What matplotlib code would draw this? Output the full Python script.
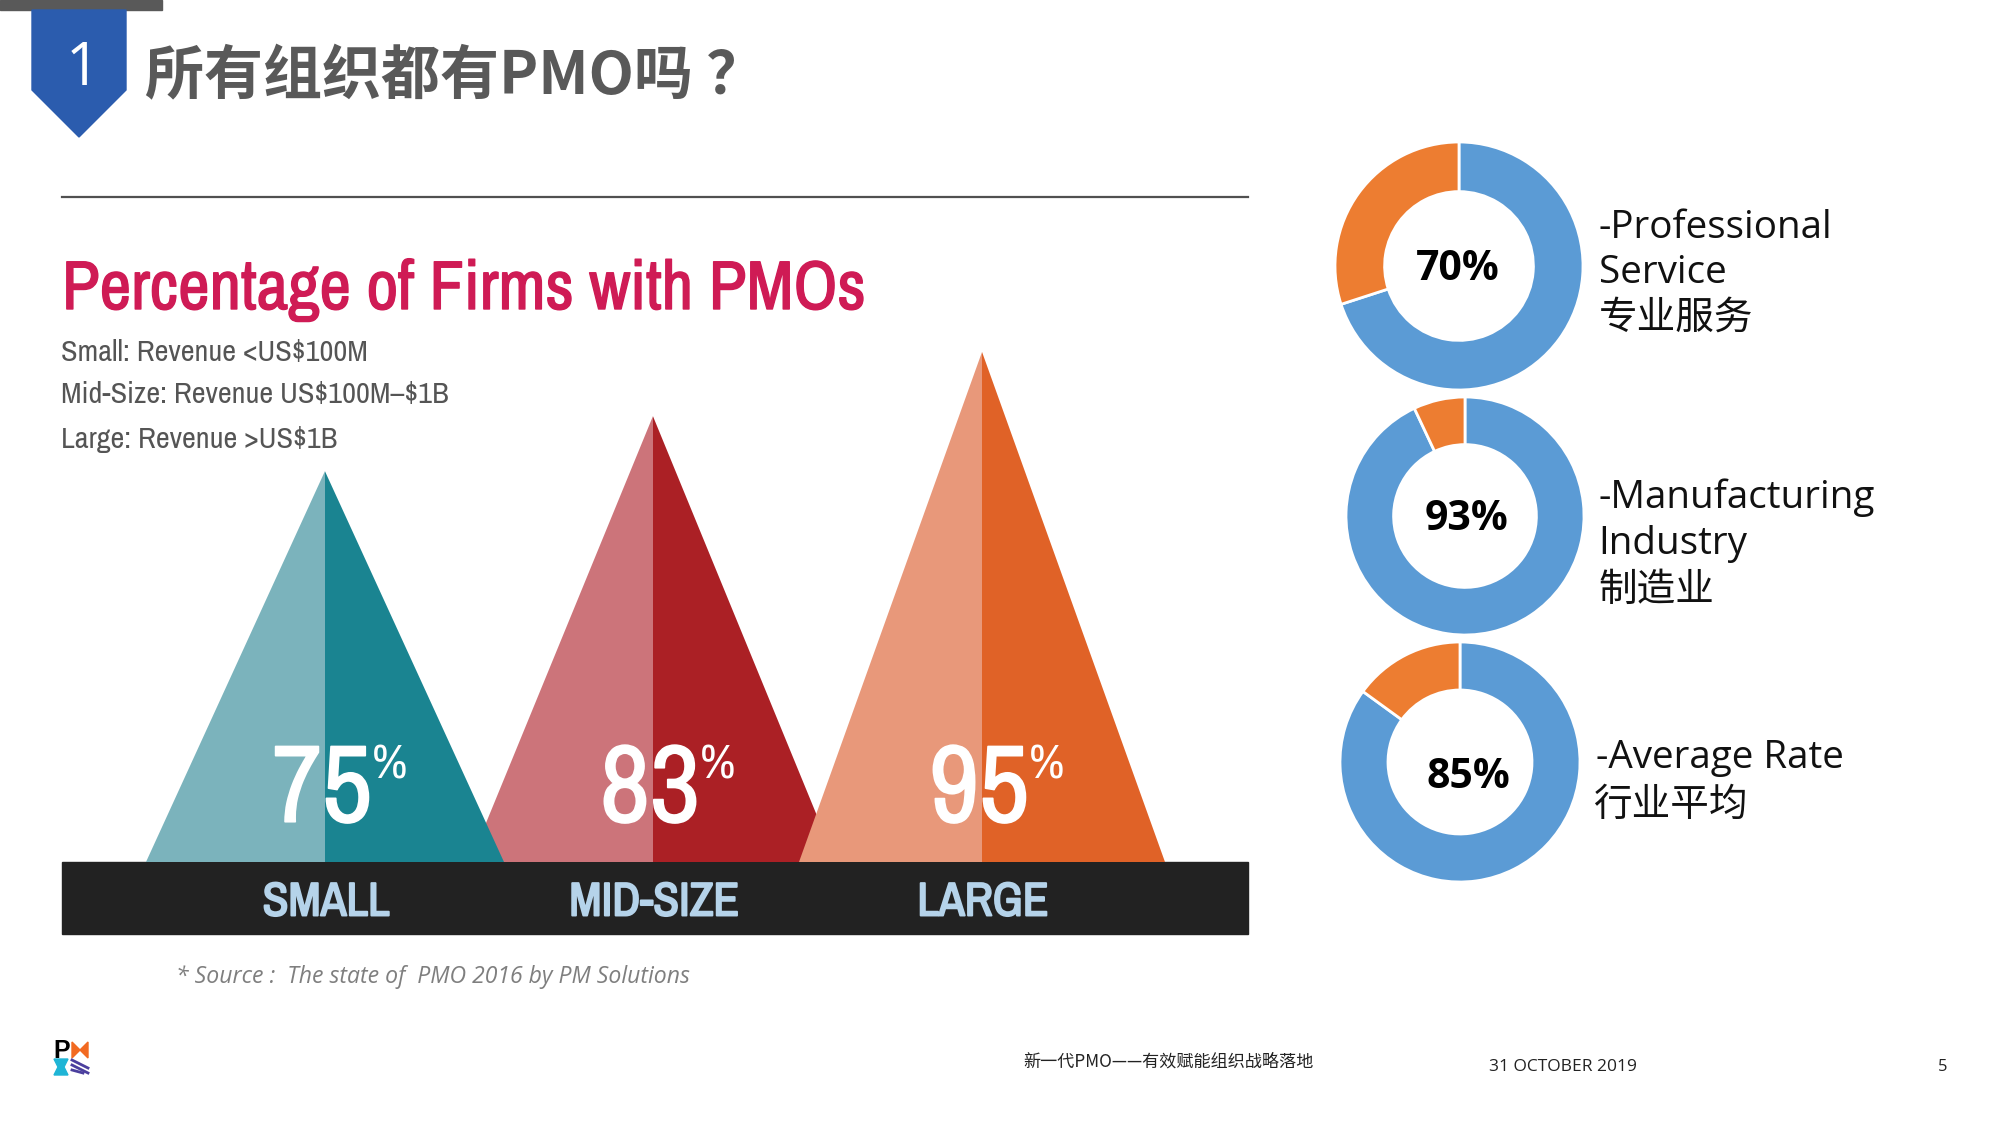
import matplotlib
matplotlib.use("Agg")
import logging
import matplotlib.pyplot as plt
import matplotlib.patheffects as pe
from matplotlib.patches import Polygon, Rectangle

logging.getLogger("matplotlib.font_manager").setLevel(logging.ERROR)
plt.rcParams['font.family'] = ['Noto Sans CJK SC', 'DejaVu Sans']

# data
sizes = ["SMALL", "MID-SIZE", "LARGE"]
firm_pct = [75, 83, 95]
revenue_notes = ["Small: Revenue <US\\$100M", "Mid-Size: Revenue US\\$100M\u2013\\$1B", "Large: Revenue >US\\$1B"]
sector_pct = [70, 93, 85]
sector_labels = [
    ["-Professional", "Service", "专业服务"],
    ["-Manufacturing", "Industry", "制造业"],
    ["-Average Rate", "行业平均"],
]

W, H = 2001, 1125
fig = plt.figure(figsize=(W / 100, H / 100), dpi=100, facecolor="white")


def px_axes(x0, y0, x1, y1):
    # axes from pixel box, y0 is the top edge in image coords
    return fig.add_axes([x0 / W, 1 - y1 / H, (x1 - x0) / W, (y1 - y0) / H])


def fatten(text, width, color):
    # the narrow font has no usable bold, so thicken with a stroke
    text.set_path_effects([pe.withStroke(linewidth=width, foreground=color)])


# slide layer in pixels
bg = px_axes(0, 0, W, H)
bg.set_xlim(0, W)
bg.set_ylim(H, 0)
bg.axis("off")

# header
bg.add_patch(Rectangle((0, 0), 162, 10, color="#595959"))
bg.add_patch(Polygon([(32, 10), (126, 10), (126, 90), (79, 137), (32, 90)], color="#2b5cae"))
bg.text(83, 69, "1", color="white", fontsize=43, ha="center", va="center", family="Open Sans")
bg.text(145, 77, "所有组织都有PMO吗 ？", color="#595959", fontsize=42.5, fontweight="bold", ha="left", va="center")
bg.plot([62, 1248], [197, 197], color="#505050", lw=1.6)

# left panel title
narrow = ["Archivo Narrow", "Liberation Sans"]
head = bg.text(62, 309, "Percentage of Firms with PMOs", color="#cf1b55", fontsize=49.6, family=narrow, va="baseline")
fatten(head, 1.0, "#cf1b55")
for note, yy in zip(revenue_notes, [361, 403, 448]):
    bg.text(61, yy, note, color="#555555", fontsize=21.8, family=narrow, va="baseline")

# triangles, drawn on a percent axis, mid-size goes under the others
tri = px_axes(0, 862 - 537, W, 862)
tri.set_xlim(0, W)
tri.set_ylim(0, 100)
tri.axis("off")
centres = [325, 653, 982]
half_w = [179, 183, 183]
height_adj = [0.97, 1.0, 1.0]
light = ["#7bb3bc", "#cc747a", "#e8987a"]
dark = ["#1a8491", "#ab2025", "#e06227"]
for i in [1, 0, 2]:
    c, hw = centres[i], half_w[i]
    top = firm_pct[i] * height_adj[i]
    tri.add_patch(Polygon([(c - hw, 0), (c, 0), (c, top)], color=light[i], lw=0))
    tri.add_patch(Polygon([(c, 0), (c + hw, 0), (c, top)], color=dark[i], lw=0))
    num = tri.text(c - 3, 7.5, str(firm_pct[i]), color="white", fontsize=79, family=narrow, ha="center", va="baseline")
    fatten(num, 1.2, "white")
    tri.text(c + 47, 15.6, "%", color="white", fontsize=35, family=narrow, ha="left", va="baseline")

# black band
bg.add_patch(Rectangle((62, 862), 1186, 72, color="#222222", zorder=3))
for c, name in zip(centres, sizes):
    lab = bg.text(c + 1, 902, name, color="#b5d3ea", fontsize=34, family=narrow,
                  ha="center", va="center", zorder=4)
    fatten(lab, 1.4, "#b5d3ea")
bg.text(176, 977, "* Source :  The state of  PMO 2016 by PM Solutions", color="#7f7f7f", fontsize=16.6,
        style="italic", family=["Open Sans", "Noto Sans CJK SC"], va="center")

# donuts
boxes = [(1459, 266, 124), (1465, 516, 119), (1460, 762, 120)]
for pct, (cx, cy, r) in zip(sector_pct, boxes):
    ax = px_axes(cx - r, cy - r, cx + r, cy + r)
    ax.pie([pct, 100 - pct], colors=["#5b9bd5", "#ed7d31"], startangle=90, counterclock=False, radius=1,
           wedgeprops=dict(width=0.4, edgecolor="white", linewidth=2))
    ax.set_xlim(-1, 1)
    ax.set_ylim(-1, 1)
for pct, x, y in zip(sector_pct, [1458, 1467, 1468], [269, 520, 777]):
    bg.text(x, y, f"{pct}%", color="black", fontsize=29.5, fontweight="bold", ha="center", va="center", zorder=5,
            family="Open Sans")

# donut captions
label_pos = [
    [(1599, 238), (1599, 283), (1599, 329)],
    [(1599, 508), (1598, 554), (1598, 601)],
    [(1596, 768), (1593, 816)],
]
for lines, poss in zip(sector_labels, label_pos):
    for txt, (x, y) in zip(lines, poss):
        bg.text(x, y, txt, color="#111111", fontsize=27.8, va="baseline", family=["Open Sans", "Noto Sans CJK SC"])

# footer
bg.text(1023, 1062, "新一代PMO——有效赋能组织战略落地", color="#222222", fontsize=12.3, va="center")
bg.text(1489, 1067, "31 OCTOBER 2019", color="#222222", fontsize=12.5, va="center", family="Open Sans")
bg.text(1938, 1067, "5", color="#222222", fontsize=12, va="center", family="Open Sans")

# small logo
bg.text(53, 1058, "P", color="black", fontsize=18, fontweight="bold", va="baseline", family="Liberation Sans")
bg.add_patch(Polygon([(72, 1042), (80, 1050), (88, 1042), (88, 1058), (80, 1050), (72, 1058)], color="#f26a21"))
bg.add_patch(Polygon([(54, 1059), (68, 1059), (64, 1067), (68, 1075), (54, 1075), (58, 1067)], color="#1fb5d6"))
for k in range(3):
    bg.plot([72, 88 - 5 * max(k - 1, 0)], [1060 + k * 5, 1068 + k * 5 - 5 * max(k - 1, 0)], color="#4b3f9e", lw=2)

fig.savefig("out.png", dpi=100)
